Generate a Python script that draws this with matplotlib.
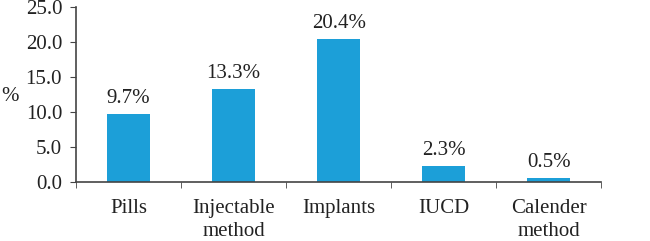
import numpy as np
import matplotlib.pyplot as plt

methods = ["Pills", "Injectable\nmethod", "Implants", "IUCD", "Calender\nmethod"]
percent = [9.7, 13.3, 20.4, 2.3, 0.5]
labels = ["9.7%", "13.3%", "20.4%", "2.3%", "0.5%"]

plt.rcParams['font.family'] = ['Liberation Serif', 'DejaVu Serif']
fs = 15

fig = plt.figure(figsize=(6.5, 2.41), dpi=100)
ax = fig.add_axes([0.117, 0.245, 0.808, 0.726])

x = np.arange(len(methods))
ax.bar(x, percent, width=0.41, color='#1C9FD8')
for xi, v, lab in zip(x, percent, labels):
    ax.text(xi, v + 0.9, lab, ha='center', va='bottom', fontsize=fs, color='#222222')

ax.set_xlim(-0.5, len(methods) - 0.5)
ax.set_ylim(0, 25)
ax.set_yticks(np.arange(0, 25.1, 5))
ax.set_yticklabels([f"{t:.1f}" for t in np.arange(0, 25.1, 5)])
ax.set_xticks(x)
ax.set_xticklabels(methods, linespacing=1.3)
ax.set_xticks(np.arange(-0.5, len(methods), 1), minor=True)
ax.tick_params(axis='x', which='major', length=0, pad=12, labelsize=fs, labelcolor='#222222')
ax.tick_params(axis='x', which='minor', length=4, color='#444444')
ax.tick_params(axis='y', length=4, color='#444444', labelsize=fs, pad=6, labelcolor='#222222')

for s in ['top', 'right']:
    ax.spines[s].set_visible(False)
for s in ['left', 'bottom']:
    ax.spines[s].set_color('#444444')
    ax.spines[s].set_linewidth(1.2)

fig.text(0.002, 0.6, "%", fontsize=fs, ha='left', va='center', color='#222222')

fig.savefig("out.png", dpi=100)
